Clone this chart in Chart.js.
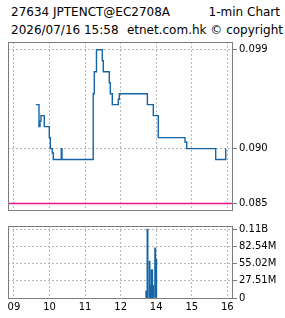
<!DOCTYPE html>
<html><head><meta charset="utf-8">
<script src="https://cdn.jsdelivr.net/npm/chart.js@4/dist/chart.umd.min.js"></script>
<style>
html,body{margin:0;padding:0;background:#fff;width:285px;height:318px;overflow:hidden;font-family:"DejaVu Sans",sans-serif;}
.t{position:absolute;font-size:12px;line-height:14px;color:#000;white-space:nowrap;}
canvas{position:absolute;left:0;}
</style></head><body>
<div class="t" style="left:11px;top:5px">27634 JPTENCT@EC2708A</div>
<div class="t" style="right:5px;top:5px">1-min Chart</div>
<div class="t" style="left:11px;top:23px">2026/07/16 15:58</div>
<div class="t" style="right:2px;top:23px">etnet.com.hk © copyright</div>
<canvas id="c1" width="285" height="218" style="top:0"></canvas>
<canvas id="c2" width="285" height="100" style="top:218px"></canvas>
<script>
// ---- data (minutes of trading since 09:00, lunch break removed) ----
const priceMinutes = [37, 42.2, 43.9, 45.6, 51.1, 59.6, 61.3, 64.6, 66.3, 79.8, 81, 133.7, 135.5, 139.2, 149, 150.7, 160.8, 162.5, 165.9, 176, 177.7, 225.1, 235.1, 243.5, 288.6, 291.5, 340.4, 357.3];
const prices = [0.094, 0.092, 0.0925, 0.093, 0.092, 0.091, 0.090, 0.0896, 0.089, 0.090, 0.089, 0.095, 0.097, 0.099, 0.098, 0.097, 0.096, 0.095, 0.094, 0.0945, 0.095, 0.094, 0.093, 0.091, 0.0906, 0.090, 0.089, 0.090];
const volMinutes = [223.3, 225.3, 228.7, 230.4, 231.9, 233.2, 234.9, 238.3, 240];
const volumes = [11.4e6, 110.04e6, 59e6, 20e6, 45e6, 45e6, 20e6, 80e6, 62e6];
const refPrice = 0.085;
const timeTickMinutes = [0, 60, 120, 180, 240, 300, 360];
const timeTickLabels = ['09', '10', '11', '12', '14', '15', '16'];
const priceTicks = [0.085, 0.090, 0.099];
const priceTickLabels = ['0.085', '0.090', '0.099'];
const volTicks = [0, 27.51e6, 55.02e6, 82.54e6, 110.04e6];
const volTickLabels = ['0', '27.51M', '55.02M', '82.54M', '0.11B'];

// ---- style ----
const X_MIN = -10.1, X_MAX = 369.6;
const LINE = '#1565a6', PINK = '#f0148a', GRID = '#b8b8b8', FRAME = '#7d7d7d';
const tickFont = {family: 'DejaVu Sans', size: 10};

const framePlugin = {
  id: 'frame',
  afterDraw(chart) {
    const {ctx, chartArea: a} = chart;
    ctx.save();
    ctx.strokeStyle = FRAME;
    ctx.lineWidth = 1;
    ctx.setLineDash([]);
    ctx.strokeRect(a.left + 0.5, a.top + 0.5, a.right - a.left - 1, a.bottom - a.top);
    ctx.restore();
  }
};

function xScale(showLabels) {
  return {
    type: 'linear', min: X_MIN, max: X_MAX, offset: false,
    afterBuildTicks: s => { s.ticks = timeTickMinutes.map(v => ({value: v})); },
    afterFit: s => { s.height = showLabels ? 20 : 0; },
    ticks: {display: showLabels, font: tickFont, color: '#000', padding: 3, maxRotation: 0, autoSkip: false,
      callback: v => timeTickLabels[timeTickMinutes.indexOf(v)]},
    grid: {color: GRID, lineWidth: 1, drawTicks: false, offset: false, borderDash: [2, 2]},
    border: {display: false, dash: [2, 2]}
  };
}
function yScale(min, max, tickVals, tickLabels) {
  return {
    type: 'linear', position: 'right', min: min, max: max,
    afterBuildTicks: s => { s.ticks = tickVals.map(v => ({value: v})); },
    afterFit: s => { s.width = 52; },
    ticks: {font: tickFont, color: '#000', padding: 2,
      callback: v => { const i = tickVals.findIndex(t => Math.abs(t - v) < (max - min) * 1e-6); return i >= 0 ? tickLabels[i] : ''; }},
    grid: {color: GRID, lineWidth: 1, drawTicks: true, tickLength: 4, tickColor: FRAME, tickBorderDash: [], borderDash: [2, 2]},
    border: {display: false, dash: [2, 2]}
  };
}

new Chart(document.getElementById('c1'), {
  type: 'line',
  data: {datasets: [
    {data: priceMinutes.map((m, i) => ({x: m, y: prices[i]})), stepped: true, borderColor: LINE, borderWidth: 1.4, pointRadius: 0, fill: false},
    {data: [{x: X_MIN, y: refPrice}, {x: X_MAX, y: refPrice}], borderColor: PINK, borderWidth: 1.4, pointRadius: 0, fill: false}
  ]},
  options: {
    responsive: false, animation: false, devicePixelRatio: 1,
    layout: {padding: {left: 8, top: 42, right: 0, bottom: 3}},
    plugins: {legend: {display: false}, tooltip: {enabled: false}},
    scales: {x: xScale(false), y: yScale(0.084407, 0.099708, priceTicks, priceTickLabels)}
  },
  plugins: [framePlugin]
});

new Chart(document.getElementById('c2'), {
  type: 'bar',
  data: {datasets: [
    {data: volMinutes.map((m, i) => ({x: m, y: volumes[i]})), backgroundColor: LINE, barThickness: 1.3, borderWidth: 0}
  ]},
  options: {
    responsive: false, animation: false, devicePixelRatio: 1,
    layout: {padding: {left: 8, top: 4, right: 0, bottom: 0}},
    plugins: {legend: {display: false}, tooltip: {enabled: false}},
    scales: {x: xScale(true), y: yScale(0, 115e6, volTicks, volTickLabels)}
  },
  plugins: [framePlugin]
});
</script>
</body></html>
